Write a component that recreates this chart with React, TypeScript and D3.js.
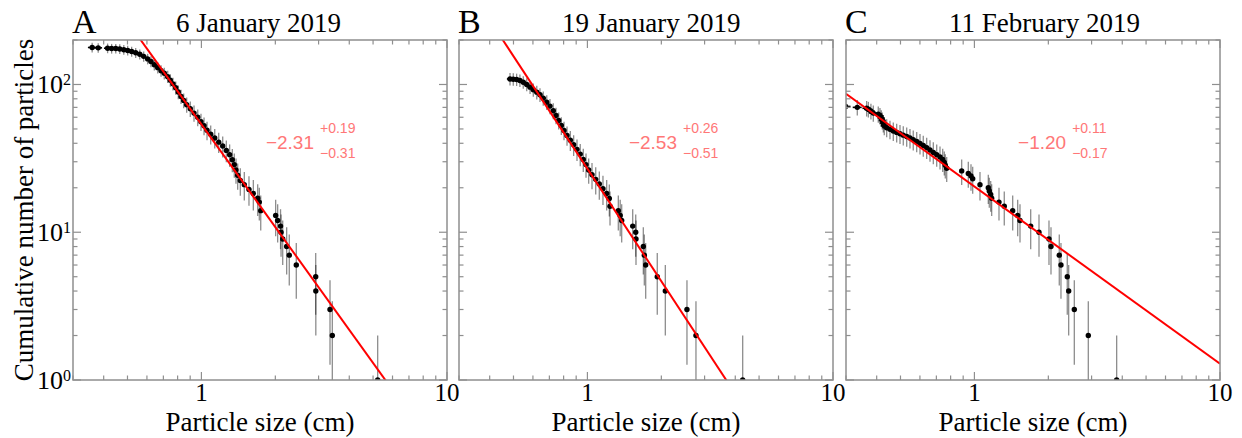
import React from 'react';
import * as d3 from 'd3';

// ---- Data ----
const sizesA = [0.359, 0.380, 0.415, 0.431, 0.448, 0.465, 0.483, 0.501, 0.520, 0.540, 0.561, 0.582, 0.604, 0.623, 0.643, 0.664, 0.685, 0.706, 0.729, 0.747, 0.766, 0.786, 0.805, 0.826, 0.847, 0.871, 0.901, 0.933, 0.966, 0.996, 1.025, 1.054, 1.091, 1.133, 1.176, 1.221, 1.263, 1.303, 1.336, 1.361, 1.383, 1.405, 1.440, 1.495, 1.562, 1.627, 1.695, 1.721, 1.744, 2.006, 2.044, 2.10, 2.11, 2.143, 2.224, 2.279, 2.434, 2.920, 2.923, 3.339, 3.412, 5.221];
const countsA = [178, 177, 176, 175, 175, 174, 172, 170, 167, 164, 160, 155, 149, 143, 136, 130, 124, 119, 113, 107, 101, 95, 89, 83, 78, 73, 68.5, 64, 60, 56, 52.6, 49, 46, 43.4, 40.7, 38.3, 35.8, 33.5, 31, 28.7, 26.4, 24.3, 22.4, 21, 19.5, 18.3, 17, 16, 14, 13, 12, 11, 10, 9, 8, 7, 6, 5, 4, 3, 2, 1];

const sizesB = [0.484, 0.499, 0.515, 0.531, 0.548, 0.566, 0.584, 0.602, 0.622, 0.641, 0.661, 0.683, 0.704, 0.726, 0.745, 0.764, 0.783, 0.803, 0.826, 0.852, 0.879, 0.907, 0.935, 0.962, 0.987, 1.012, 1.044, 1.081, 1.118, 1.157, 1.198, 1.228, 1.236, 1.336, 1.36, 1.379, 1.529, 1.573, 1.577, 1.689, 1.705, 1.727, 1.925, 2.076, 2.543, 2.767, 4.288];
const countsB = [109, 108.6, 108, 106.4, 103.6, 100, 95.9, 92.1, 88.7, 85.2, 80.8, 75.9, 71.4, 66.4, 61.7, 57.1, 52.8, 48.9, 45.2, 42, 39.1, 36.4, 33.8, 31.1, 28.7, 26.4, 24.5, 22.8, 21.2, 19.7, 18.3, 16.9, 15, 14, 13, 12, 11, 10, 9, 8, 7, 6, 5, 4, 3, 2, 1];

const sizesC = [0.299, 0.3335, 0.364, 0.370, 0.379, 0.3875, 0.406, 0.4125, 0.4176, 0.4216, 0.4256, 0.4295, 0.4393, 0.4531, 0.4674, 0.4825, 0.4977, 0.5133, 0.530, 0.5466, 0.5636, 0.5821, 0.6004, 0.6191, 0.6392, 0.6594, 0.6802, 0.7022, 0.7243, 0.7428, 0.754, 0.7611, 0.7712, 0.8875, 0.9443, 0.9685, 0.984, 1.0537, 1.139, 1.1497, 1.1649, 1.1757, 1.2592, 1.3231, 1.4317, 1.5005, 1.5333, 1.695, 1.8323, 2.0121, 2.0503, 2.2159, 2.2514, 2.3884, 2.42, 2.5513, 2.9091, 3.7953];
const countsC = [71, 70, 69, 68, 66, 64, 63, 61.4, 59.2, 57.1, 54.8, 52.6, 51, 49.7, 48.4, 47.4, 46.4, 45.4, 44.5, 43.4, 42.3, 41.2, 39.9, 38.7, 37.4, 36, 34.7, 33.5, 32.3, 31.1, 29.7, 28.4, 27.1, 26, 25, 24, 23, 21, 20, 19, 18, 17, 16, 15, 14, 13, 12, 11, 10, 9, 8, 7, 6, 5, 4, 3, 2, 1];

const panelLetters = ['A', 'B', 'C'];
const panelDates = ['6 January 2019', '19 January 2019', '11 February 2019'];
const fitSlopes = [-2.31, -2.53, -1.2];
const fitAmplitudes = [53.7, 26.9, 20.4];
const slopeLabels = ['\u22122.31', '\u22122.53', '\u22121.20'];
const errPlusLabels = ['+0.19', '+0.26', '+0.11'];
const errMinusLabels = ['\u22120.31', '\u22120.51', '\u22120.17'];
const labelAnchorSize = [3.04, 2.45, 2.5];
const labelAnchorCount = 36.8;
const xTickValues = [1, 10];
const xTickLabels = ['1', '10'];
const yTickExponents = [0, 1, 2];
const sizeError = 0.014;

const X_DOMAIN: [number, number] = [0.3, 10];
const Y_DOMAIN: [number, number] = [1, 200];

// ---- Layout ----
const LEFTS = [73, 459, 846];
const TOP = 40;
const W = 374;
const H = 340;
const FRAME = '#8f8f8f';
const SERIF = '"Liberation Serif", "Times New Roman", serif';
const SANS = '"Liberation Sans", Arial, sans-serif';

const series = [
  { sizes: sizesA, counts: countsA },
  { sizes: sizesB, counts: countsB },
  { sizes: sizesC, counts: countsC },
];

function Panel({ i }: { i: number }) {
  const x = d3.scaleLog().domain(X_DOMAIN).range([0, W]);
  const y = d3.scaleLog().domain(Y_DOMAIN).range([H, 0]);
  const { sizes, counts } = series[i];
  const pts = sizes.map((s, k) => ({ s, n: counts[k] }));
  const clipId = `clip${i}`;
  const line = d3
    .line<number>()
    .x((d) => x(d))
    .y((d) => y(fitAmplitudes[i] * Math.pow(d, fitSlopes[i])));
  const isMajor = (v: number) => Math.abs(Math.log10(v) - Math.round(Math.log10(v))) < 1e-9;
  const xt = x.ticks();
  const yt = y.ticks();
  const ax = x(labelAnchorSize[i]);
  const ay = y(labelAnchorCount);
  return (
    <g transform={`translate(${LEFTS[i]},${TOP})`}>
      <defs>
        <clipPath id={clipId}>
          <rect x={0} y={0} width={W} height={H} />
        </clipPath>
      </defs>
      <g clipPath={`url(#${clipId})`}>
        {pts.map((p, k) => {
          const e = Math.sqrt(p.n);
          const lo = Math.max(p.n - e, 0.05);
          return (
            <line key={'v' + k} x1={x(p.s)} x2={x(p.s)} y1={y(p.n + e)} y2={y(lo)}
              stroke="#000" strokeOpacity={0.45} strokeWidth={1.3} />
          );
        })}
        {pts.map((p, k) => (
          <line key={'h' + k} x1={x(p.s - sizeError)} x2={x(p.s + sizeError)} y1={y(p.n)} y2={y(p.n)}
            stroke="#000" strokeWidth={1.6} />
        ))}
        {pts.map((p, k) => (
          <circle key={'c' + k} cx={x(p.s)} cy={y(p.n)} r={2.7} fill="#000" />
        ))}
        <path d={line(X_DOMAIN) || ''} stroke="#ff0000" strokeWidth={2} fill="none" />
      </g>
      {/* frame */}
      <rect x={0} y={0} width={W} height={H} fill="none" stroke={FRAME} strokeWidth={1.5} />
      {xt.map((v, k) => {
        const L = isMajor(v) ? 8 : 4.5;
        const px = x(v);
        return (
          <g key={'xt' + k}>
            <line x1={px} x2={px} y1={H} y2={H - L} stroke={FRAME} strokeWidth={1.2} />
            <line x1={px} x2={px} y1={0} y2={L} stroke={FRAME} strokeWidth={1.2} />
          </g>
        );
      })}
      {yt.map((v, k) => {
        const L = isMajor(v) ? 8 : 4.5;
        const py = y(v);
        return (
          <g key={'yt' + k}>
            <line x1={0} x2={L} y1={py} y2={py} stroke={FRAME} strokeWidth={1.2} />
            <line x1={W} x2={W - L} y1={py} y2={py} stroke={FRAME} strokeWidth={1.2} />
          </g>
        );
      })}
      {xTickValues.map((v, k) => (
        <text key={'xl' + k} x={x(v)} y={H + 21} textAnchor="middle" fontFamily={SERIF} fontSize={25} fill="#000">
          {xTickLabels[k]}
        </text>
      ))}
      {i === 0 &&
        yTickExponents.map((ex) => (
          <text key={'yl' + ex} x={-2} y={y(Math.pow(10, ex)) + 9} textAnchor="end" fontFamily={SERIF} fontSize={26} fill="#000">
            10<tspan fontSize={16} dy={-8}>{ex}</tspan>
          </text>
        ))}
      <text x={W / 2} y={H + 51} textAnchor="middle" fontFamily={SERIF} fontSize={27} fill="#000">
        Particle size (cm)
      </text>
      <text x={-1} y={-7} fontFamily={SERIF} fontSize={34} fill="#000">
        {panelLetters[i]}
      </text>
      <text x={103} y={-8} fontFamily={SERIF} fontSize={27} fill="#000">
        {panelDates[i]}
      </text>
      <text x={ax - 6} y={ay} textAnchor="end" fontFamily={SANS} fontSize={19} fill="#f77">
        {slopeLabels[i]}
      </text>
      <text x={ax} y={ay - 15.6} fontFamily={SANS} fontSize={14} fill="#f77">
        {errPlusLabels[i]}
      </text>
      <text x={ax} y={ay + 9} fontFamily={SANS} fontSize={14} fill="#f77">
        {errMinusLabels[i]}
      </text>
    </g>
  );
}

export default function App() {
  return (
    <svg width={1242} height={438} style={{ position: 'absolute', left: 0, top: 0, background: '#fff' }}>
      <rect width={1242} height={438} fill="#fff" />
      {[0, 1, 2].map((i) => (
        <Panel key={i} i={i} />
      ))}
      <text
        transform={`translate(33,${TOP + H / 2}) rotate(-90)`}
        textAnchor="middle"
        fontFamily={SERIF}
        fontSize={27}
        fill="#000"
      >
        Cumulative number of particles
      </text>
    </svg>
  );
}
